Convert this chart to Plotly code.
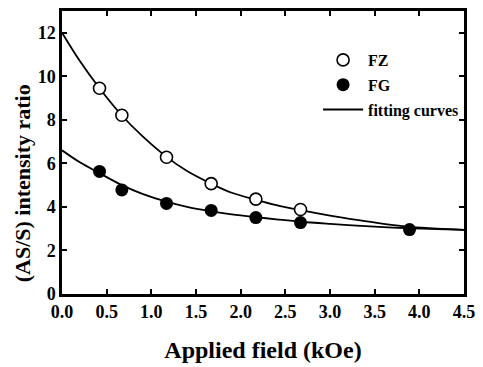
import plotly.graph_objects as go

# Measured data points
x_pts = [0.42, 0.67, 1.17, 1.67, 2.17, 2.67]
fz_vals = [9.45, 8.21, 6.28, 5.07, 4.36, 3.88]
fg_x = [0.42, 0.67, 1.17, 1.67, 2.17, 2.67, 3.89]
fg_vals = [5.63, 4.78, 4.16, 3.84, 3.51, 3.28, 2.96]

# Fitting curves
fit_x = [0.0, 0.2, 0.42, 0.67, 0.9, 1.17, 1.4, 1.67, 1.9, 2.17, 2.4, 2.67, 3.0, 3.3, 3.6, 3.9, 4.2, 4.5]
fit_fz = [12.0, 10.7, 9.45, 8.2, 7.25, 6.3, 5.65, 5.07, 4.65, 4.33, 4.08, 3.85, 3.6, 3.4, 3.22, 3.08, 3.0, 2.95]
fit_fg = [6.6, 6.05, 5.55, 5.0, 4.6, 4.24, 4.0, 3.8, 3.66, 3.53, 3.43, 3.32, 3.22, 3.14, 3.07, 3.02, 2.98, 2.95]

x_ticks = [0.0, 0.5, 1.0, 1.5, 2.0, 2.5, 3.0, 3.5, 4.0, 4.5]
x_ticklabels = ["0.0", "0.5", "1.0", "1.5", "2.0", "2.5", "3.0", "3.5", "4.0", "4.5"]
y_ticks = [0, 2, 4, 6, 8, 10, 12]
y_ticklabels = ["0", "2", "4", "6", "8", "10", "12"]

FONT = "Liberation Serif"

fig = go.Figure()
fig.add_trace(go.Scatter(x=fit_x, y=fit_fz, mode="lines", line=dict(color="black", width=1.8, shape="spline"),
                         name="fitting curves", legendgroup="c", legendrank=3))
fig.add_trace(go.Scatter(x=fit_x, y=fit_fg, mode="lines", line=dict(color="black", width=1.8, shape="spline"),
                         showlegend=False, legendgroup="c"))
fig.add_trace(go.Scatter(x=x_pts, y=fz_vals, mode="markers", name="FZ", legendgroup="a", legendrank=1,
                         marker=dict(symbol="circle", size=12, color="white", line=dict(color="black", width=1.6))))
fig.add_trace(go.Scatter(x=fg_x, y=fg_vals, mode="markers", name="FG", legendgroup="b", legendrank=2,
                         marker=dict(symbol="circle", size=13, color="black", line=dict(color="black", width=0))))

axis_common = dict(showline=True, linecolor="black", linewidth=2.5, mirror="ticks", ticks="inside",
                   ticklen=5, tickwidth=2, tickcolor="black", showgrid=False, zeroline=False,
                   tickfont=dict(family=FONT, size=18, color="black", weight="bold"))

fig.update_xaxes(range=[0, 4.5], tickvals=x_ticks, ticktext=[f"<b>{t}</b>" for t in x_ticklabels],
                 title=dict(text="Applied field (kOe)", font=dict(family=FONT, size=24, color="black", weight="bold"),
                            standoff=20),
                 **axis_common)
fig.update_yaxes(range=[0, 13], tickvals=y_ticks, ticktext=[f"<b>{t}</b>" for t in y_ticklabels], **axis_common)

fig.add_annotation(text="(AS/S) intensity ratio", xref="paper", yref="paper", x=-0.099, y=0.392,
                   xanchor="center", yanchor="middle", textangle=-90, showarrow=False,
                   font=dict(family=FONT, size=22, color="black", weight="bold"))

fig.update_layout(
    width=483, height=367,
    margin=dict(l=62, r=13, t=8, b=68),
    plot_bgcolor="white", paper_bgcolor="white",
    font=dict(family=FONT, size=18, color="black"),
    showlegend=True,
    legend=dict(x=0.637, y=0.887, xanchor="left", yanchor="top", bgcolor="rgba(0,0,0,0)",
                font=dict(family=FONT, size=16, color="black", weight="bold"), tracegroupgap=1,
                traceorder="grouped", itemwidth=40),
)

fig.write_html("out.html")
